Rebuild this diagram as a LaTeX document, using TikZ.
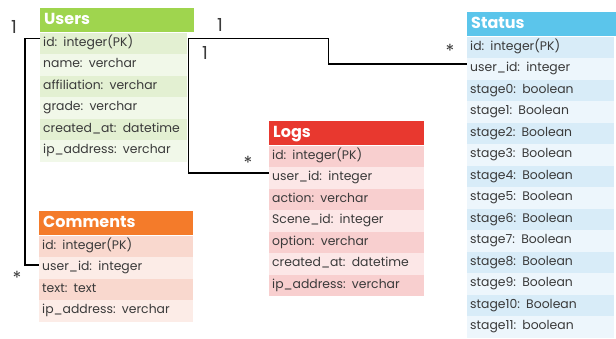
\documentclass[tikz,border=0pt]{standalone}
\usepackage{fontspec}
\setmainfont{Poppins}
\usetikzlibrary{positioning}
\definecolor{textgray}{HTML}{3A3A3A}
\definecolor{usershead}{HTML}{9FD54E}
\definecolor{usersrow1}{HTML}{E3F0D2}
\definecolor{usersrow0}{HTML}{F1F8E9}
\definecolor{statushead}{HTML}{5BC5EB}
\definecolor{statusrow1}{HTML}{D8ECF8}
\definecolor{statusrow0}{HTML}{EDF6FC}
\definecolor{logshead}{HTML}{E8382F}
\definecolor{logsrow1}{HTML}{F8CFCF}
\definecolor{logsrow0}{HTML}{FCE7E7}
\definecolor{commentshead}{HTML}{F47B2A}
\definecolor{commentsrow1}{HTML}{F9D8CE}
\definecolor{commentsrow0}{HTML}{FCECE7}
\tikzset{
  tablehead/.style={anchor=north west, minimum height=24pt, inner xsep=4pt, inner ysep=0pt,
    text=white, font=\bfseries\fontsize{16}{16}\selectfont, text height=12pt, text depth=3pt},
  tablerow/.style={anchor=north west, minimum height=21.5pt, inner xsep=3pt, inner ysep=0pt,
    text=textgray, font=\fontsize{12.4}{12.4}\selectfont, text height=9pt, text depth=3pt},
  link/.style={draw=black, line width=1.4pt},
  mult/.style={text=textgray, font=\fontsize{18}{18}\selectfont, inner sep=0pt}
}
\begin{document}
\begin{tikzpicture}[x=1pt, y=-1pt]
  \useasboundingbox (0,0) rectangle (616,338);
  % Users
  \node[tablehead, fill=usershead, text width=146pt] (users) at (40,8) {Users};
  \foreach \t [count=\i] in {id: integer(PK), name: verchar, affiliation: verchar,
      grade: verchar, created\_at: datetime, ip\_address: verchar}{
    \pgfmathtruncatemacro\k{mod(\i,2)}
    \node[tablerow, fill=usersrow\k, text width=141pt] (users-\i)
      at ([yshift={-(\i-1)*21.5pt}]users.south west) {\t};
  }
  % Status
  \node[tablehead, fill=statushead, text width=141pt] (status) at (467,12) {Status};
  \foreach \t [count=\i] in {id: integer(PK), user\_id: integer, stage0: boolean,
      stage1: Boolean, stage2: Boolean, stage3: Boolean, stage4: Boolean,
      stage5: Boolean, stage6: Boolean, stage7: Boolean, stage8: Boolean,
      stage9: Boolean, stage10: Boolean, stage11: boolean}{
    \pgfmathtruncatemacro\k{mod(\i,2)}
    \node[tablerow, fill=statusrow\k, text width=141pt] (status-\i)
      at ([yshift={-(\i-1)*21.5pt}]status.south west) {\t};
  }
  % Logs
  \node[tablehead, fill=logshead, text width=147pt] (logs) at (269,121) {Logs};
  \foreach \t [count=\i] in {id: integer(PK), user\_id: integer, action: verchar,
      Scene\_id: integer, option: verchar, created\_at: datetime, ip\_address: verchar}{
    \pgfmathtruncatemacro\k{mod(\i,2)}
    \node[tablerow, fill=logsrow\k, text width=149pt] (logs-\i)
      at ([yshift={-(\i-1)*21.5pt}]logs.south west) {\t};
  }
  % Comments
  \node[tablehead, fill=commentshead, text width=146pt] (comments) at (39,211) {Comments};
  \foreach \t [count=\i] in {id: integer(PK), user\_id: integer, text: text,
      ip\_address: verchar}{
    \pgfmathtruncatemacro\k{mod(\i,2)}
    \node[tablerow, fill=commentsrow\k, text width=148pt] (comments-\i)
      at ([yshift={-(\i-1)*21.5pt}]comments.south west) {\t};
  }
  % relations
  \draw[link] ([yshift=-6pt]users-1.north west) -- ++(-15,0)
    |- ([yshift=-8pt]comments-2.north west);
  \draw[link] ([xshift=1pt, yshift=-6pt]users-1.north east) -- ++(140,0)
    |- ([yshift=-6pt]status-2.north west);
  \draw[link] ([xshift=1pt, yshift=-6pt]users-1.north east)
    |- ([yshift=-6pt]logs-2.north west);
  % multiplicities
  \node[mult] (m-users-c) at (14,27) {1};
  \node[mult] (m-comments) at (17,278) {*};
  \node[mult] (m-users-s) at (220,25) {1};
  \node[mult] (m-users-l) at (205,53) {1};
  \node[mult] (m-status) at (450,51) {*};
  \node[mult] (m-logs) at (248,163) {*};
\end{tikzpicture}
\end{document}
